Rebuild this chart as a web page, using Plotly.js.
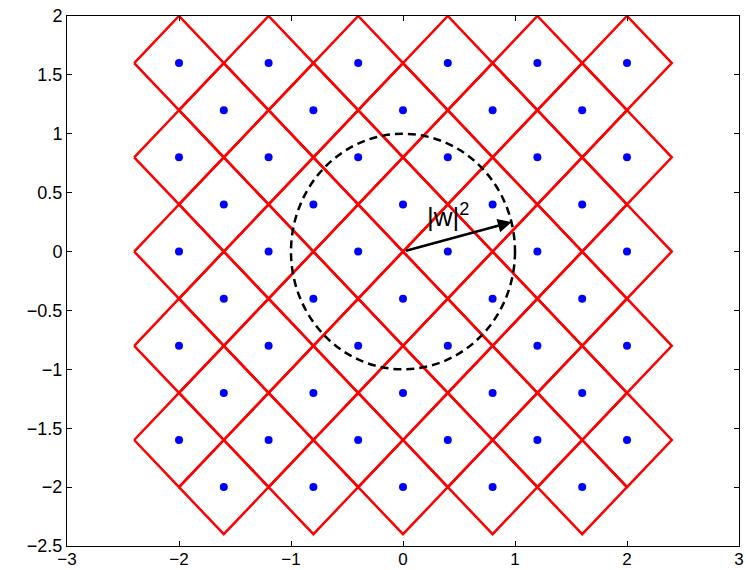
<!DOCTYPE html>
<html><head><meta charset="utf-8">
<script src="https://cdn.plot.ly/plotly-3.0.1.min.js"></script>
<style>body{margin:0;background:#fff}#c{width:746px;height:570px}</style>
</head><body><div id="c"></div>
<script>
// lattice centers (row A and row B)
var rowAx = [-2, -1.2, -0.4, 0.4, 1.2, 2];
var rowAy = [1.6, 0.8, 0, -0.8, -1.6];
var rowBx = [-1.6, -0.8, 0, 0.8, 1.6];
var rowBy = [1.2, 0.4, -0.4, -1.2, -2];
var cellHalf = 0.4;            // half-diagonal of each diamond cell
var circleRadius = 1;
var vecTip = [0.97, 0.25];     // |w|^2 arrow tip
var vecLabel = '|w|<sup>2</sup>';

var px = [], py = [];
rowAy.forEach(function(y){ rowAx.forEach(function(x){ px.push(x); py.push(y); }); });
rowBy.forEach(function(y){ rowBx.forEach(function(x){ px.push(x); py.push(y); }); });

var dx = [], dy = [];
for (var i = 0; i < px.length; i++) {
  var x = px[i], y = py[i], h = cellHalf;
  dx.push(x - h, x, x + h, x, x - h, null);
  dy.push(y, y + h, y, y - h, y, null);
}

var traces = [
  {x: dx, y: dy, mode: 'lines', line: {color: '#ff0000', width: 2.5}, hoverinfo: 'skip', cliponaxis: false},
  {x: px, y: py, mode: 'markers', marker: {color: '#0000ff', size: 8}}
];

var fontFam = 'Liberation Sans, Arial, sans-serif';
var axisCommon = {
  showgrid: false, zeroline: false, showline: true, linecolor: '#000', linewidth: 1,
  mirror: 'ticks', ticks: 'inside', ticklen: 5, tickcolor: '#000', tickwidth: 1
};

var layout = {
  width: 746, height: 570,
  margin: {l: 67, r: 7, t: 16, b: 24},
  paper_bgcolor: '#fff', plot_bgcolor: '#fff',
  showlegend: false,
  xaxis: Object.assign({range: [-3, 3], tickvals: [-3,-2,-1,0,1,2,3],
    tickfont: {family: fontFam, size: 17, color: '#000'}, ticklabelstandoff: -2}, axisCommon),
  yaxis: Object.assign({range: [-2.5, 2], tickvals: [-2.5,-2,-1.5,-1,-0.5,0,0.5,1,1.5,2],
    tickfont: {family: fontFam, size: 18, color: '#000'}}, axisCommon),
  shapes: [{
    type: 'circle', xref: 'x', yref: 'y',
    x0: -circleRadius, x1: circleRadius, y0: -circleRadius, y1: circleRadius,
    line: {color: '#000', width: 2.5, dash: '8px,5px'}
  }],
  annotations: [
    {x: vecTip[0], y: vecTip[1], ax: 0, ay: 0, axref: 'x', ayref: 'y', xref: 'x', yref: 'y',
     text: ' ', showarrow: true, arrowhead: 2, arrowsize: 1.1, arrowwidth: 2.5, arrowcolor: '#000'},
    {x: 0.40, y: 0.31, xref: 'x', yref: 'y', xanchor: 'center', yanchor: 'middle',
     text: vecLabel, showarrow: false,
     font: {family: fontFam, size: 26, color: '#000'}}
  ]
};

Plotly.newPlot('c', traces, layout, {staticPlot: true});
</script></body></html>
